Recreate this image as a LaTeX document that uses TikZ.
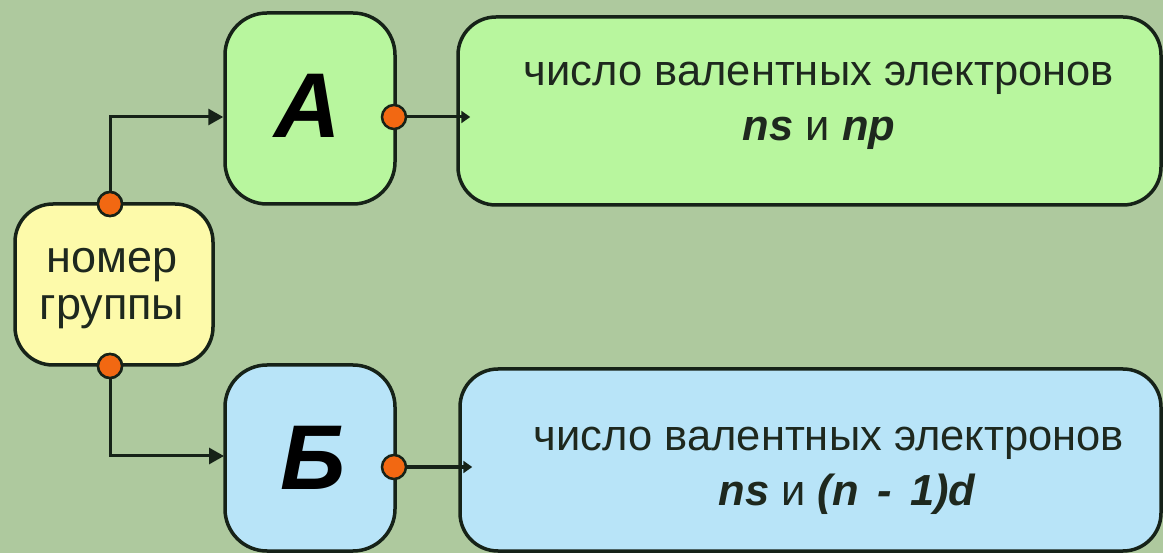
\documentclass[tikz,border=0pt]{standalone}
\usepackage{fontspec}
\setmainfont{Liberation Sans}
\usetikzlibrary{arrows.meta}
\definecolor{bg}{RGB}{174,201,158}
\definecolor{gfill}{RGB}{184,246,158}
\definecolor{bfill}{RGB}{184,228,248}
\definecolor{yfill}{RGB}{253,250,170}
\definecolor{edge}{RGB}{22,34,24}
\definecolor{dotc}{RGB}{242,104,18}
\definecolor{txt}{RGB}{30,40,30}
\tikzset{
  box/.style={draw=edge, line width=3.5pt, inner sep=0pt},
  conn/.style={draw=edge, line width=3pt},
  tipbig/.style={-{Triangle[length=15pt,width=16pt]}},
  tipsmall/.style={-{Triangle[length=9pt,width=12pt]}},
  pin/.style={circle, draw=edge, line width=2.5pt, fill=dotc, minimum size=24pt, inner sep=0pt},
  bigletter/.style={font=\fontsize{92}{92}\selectfont\bfseries\itshape, text=black},
  bodytext/.style={font=\fontsize{43.5}{55}\selectfont, text=txt, align=center},
  yeltext/.style={font=\fontsize{45}{47}\selectfont, text=txt, align=center}
}
\begin{document}
\begin{tikzpicture}[x=1pt,y=-1pt]
\fill[bg] (0,0) rectangle (1163,553);
\useasboundingbox (0,0) rectangle (1163,553);

% left column boxes
\node[box, fill=yfill, rounded corners=38pt, minimum width=198pt, minimum height=161pt] (Y) at (114,284.5) {};
\node[yeltext] (Ytxt) at (112,289) {номер\\группы};

\node[box, fill=gfill, rounded corners=42pt, minimum width=170pt, minimum height=191pt] (A) at (310,108.5) {};
\node[bigletter] (Alab) at (308,106) {A};

\node[box, fill=bfill, rounded corners=42pt, minimum width=170pt, minimum height=186pt] (B) at (310,458) {};
\node[bigletter] (Blab) at (313,458) {Б};

% right boxes
\node[box, fill=gfill, rounded corners=38pt, minimum width=703pt, minimum height=188pt] (G) at (809.5,111) {};
\node[bodytext] (Gtxt) at (819,106) {число валентных электронов\\{\bfseries\itshape ns} и {\bfseries\itshape np}};

\node[box, fill=bfill, rounded corners=38pt, minimum width=701pt, minimum height=182pt] (H) at (810.5,460) {};
\node[bodytext] (Htxt) at (829,471) {число валентных электронов\\\hspace*{36pt}{\bfseries\itshape ns} и {\bfseries\itshape (n\hspace{0.42em}-\hspace{0.42em}1)d}};

% dots
\node[pin] (Ytop) at (110,204) {};
\node[pin] (Ybot) at (110,366) {};
\node[pin] (Adot) at (394,117) {};
\node[pin] (Bdot) at (394,467) {};

\coordinate (Ain) at (A.west |- Adot);
\coordinate (Bin) at (224,456);
\coordinate (Gin) at ([xshift=14pt]G.west |- Adot);
\coordinate (Hin) at ([xshift=14pt]H.west |- Bdot);

% connectors
\draw[conn, tipbig] (Ytop.north) |- (Ain);
\draw[conn, tipbig] (Ybot.south) |- (Bin);
\draw[conn, tipsmall] (Adot.east) -- (Gin);
\draw[conn, tipsmall] (Bdot.east) -- (Hin);
\node[pin] at (Ytop) {};
\node[pin] at (Ybot) {};
\end{tikzpicture}
\end{document}
